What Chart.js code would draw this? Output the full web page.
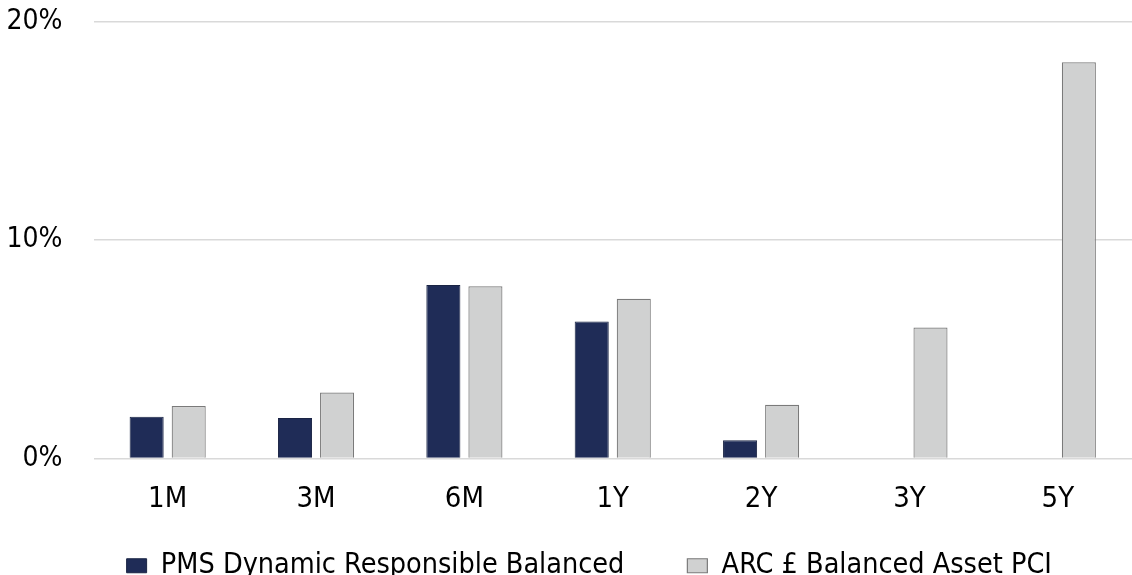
<!DOCTYPE html>
<html>
<head>
<meta charset="utf-8">
<script src="https://cdn.jsdelivr.net/npm/chart.js@4.4.1/dist/chart.umd.min.js"></script>
<style>
  html, body { margin: 0; padding: 0; background: #ffffff; overflow: hidden; }
  body { width: 1132px; height: 575px; }
  #wrap { position: relative; width: 1132px; height: 622px; }
</style>
</head>
<body>
<div id="wrap"><canvas id="chart"></canvas></div>
<script>
// Performance periods
const periods = ['1M', '3M', '6M', '1Y', '2Y', '3Y', '5Y'];

// Total returns, %
const pmsReturns = [1.91, 1.86, 7.94, 6.27, 0.84, null, null];
const arcReturns = [2.40, 3.02, 7.89, 7.31, 2.46, 6.00, 18.14];

const seriesNames = ['PMS Dynamic Responsible Balanced', 'ARC £ Balanced Asset PCI'];

// Axis range and ticks
const yMin = 0;
const yMax = 20;
const yStep = 10;

const FONT = "'DejaVu Sans Condensed', 'DejaVu Sans', sans-serif";
const TEXT = '#000000';

// Places the legend row just under the period labels, slightly right of centre
const legendPlacement = {
  id: 'legendPlacement',
  afterLayout(chart) {
    const lg = chart.legend;
    if (!lg) return;
    const h = lg.bottom - lg.top;
    lg.left = 46.5;
    lg.top = 488.5;
    lg.bottom = 488.5 + h;
  }
};

new Chart(document.getElementById('chart'), {
  type: 'bar',
  data: {
    labels: periods,
    datasets: [
      {
        label: seriesNames[0],
        data: pmsReturns,
        backgroundColor: '#1f2c57',
        borderColor: '#1a2444',
        borderWidth: 1,
        categoryPercentage: 0.567,
        barPercentage: 0.81
      },
      {
        label: seriesNames[1],
        data: arcReturns,
        backgroundColor: '#d0d1d1',
        borderColor: '#7a7a7a',
        borderWidth: 1.2,
        categoryPercentage: 0.567,
        barPercentage: 0.81
      }
    ]
  },
  plugins: [legendPlacement],
  options: {
    responsive: true,
    maintainAspectRatio: false,
    animation: false,
    layout: { padding: { top: 21.7, right: 0, bottom: 0, left: 0 } },
    plugins: {
      tooltip: { enabled: false },
      legend: {
        position: 'bottom',
        labels: {
          color: TEXT,
          font: { family: FONT, size: 28.5 },
          boxWidth: 20,
          boxHeight: 14,
          padding: 63
        }
      }
    },
    scales: {
      x: {
        grid: { display: false, drawTicks: false },
        border: { display: false },
        ticks: {
          color: TEXT,
          font: { family: FONT, size: 29 },
          padding: 24,
          maxRotation: 0
        },
        afterFit: (scale) => { scale.height = 62; }
      },
      y: {
        min: yMin,
        max: yMax,
        grid: {
          color: '#d9d9d9',
          lineWidth: 1.5,
          drawTicks: false
        },
        border: { display: false },
        ticks: {
          stepSize: yStep,
          color: TEXT,
          font: { family: FONT, size: 28 },
          padding: 31,
          callback: (v) => v + '%'
        },
        afterFit: (scale) => {
          scale.width = 93.5;
          scale.paddingTop = 0;
          scale.paddingBottom = 0;
        }
      }
    }
  }
});
</script>
</body>
</html>
